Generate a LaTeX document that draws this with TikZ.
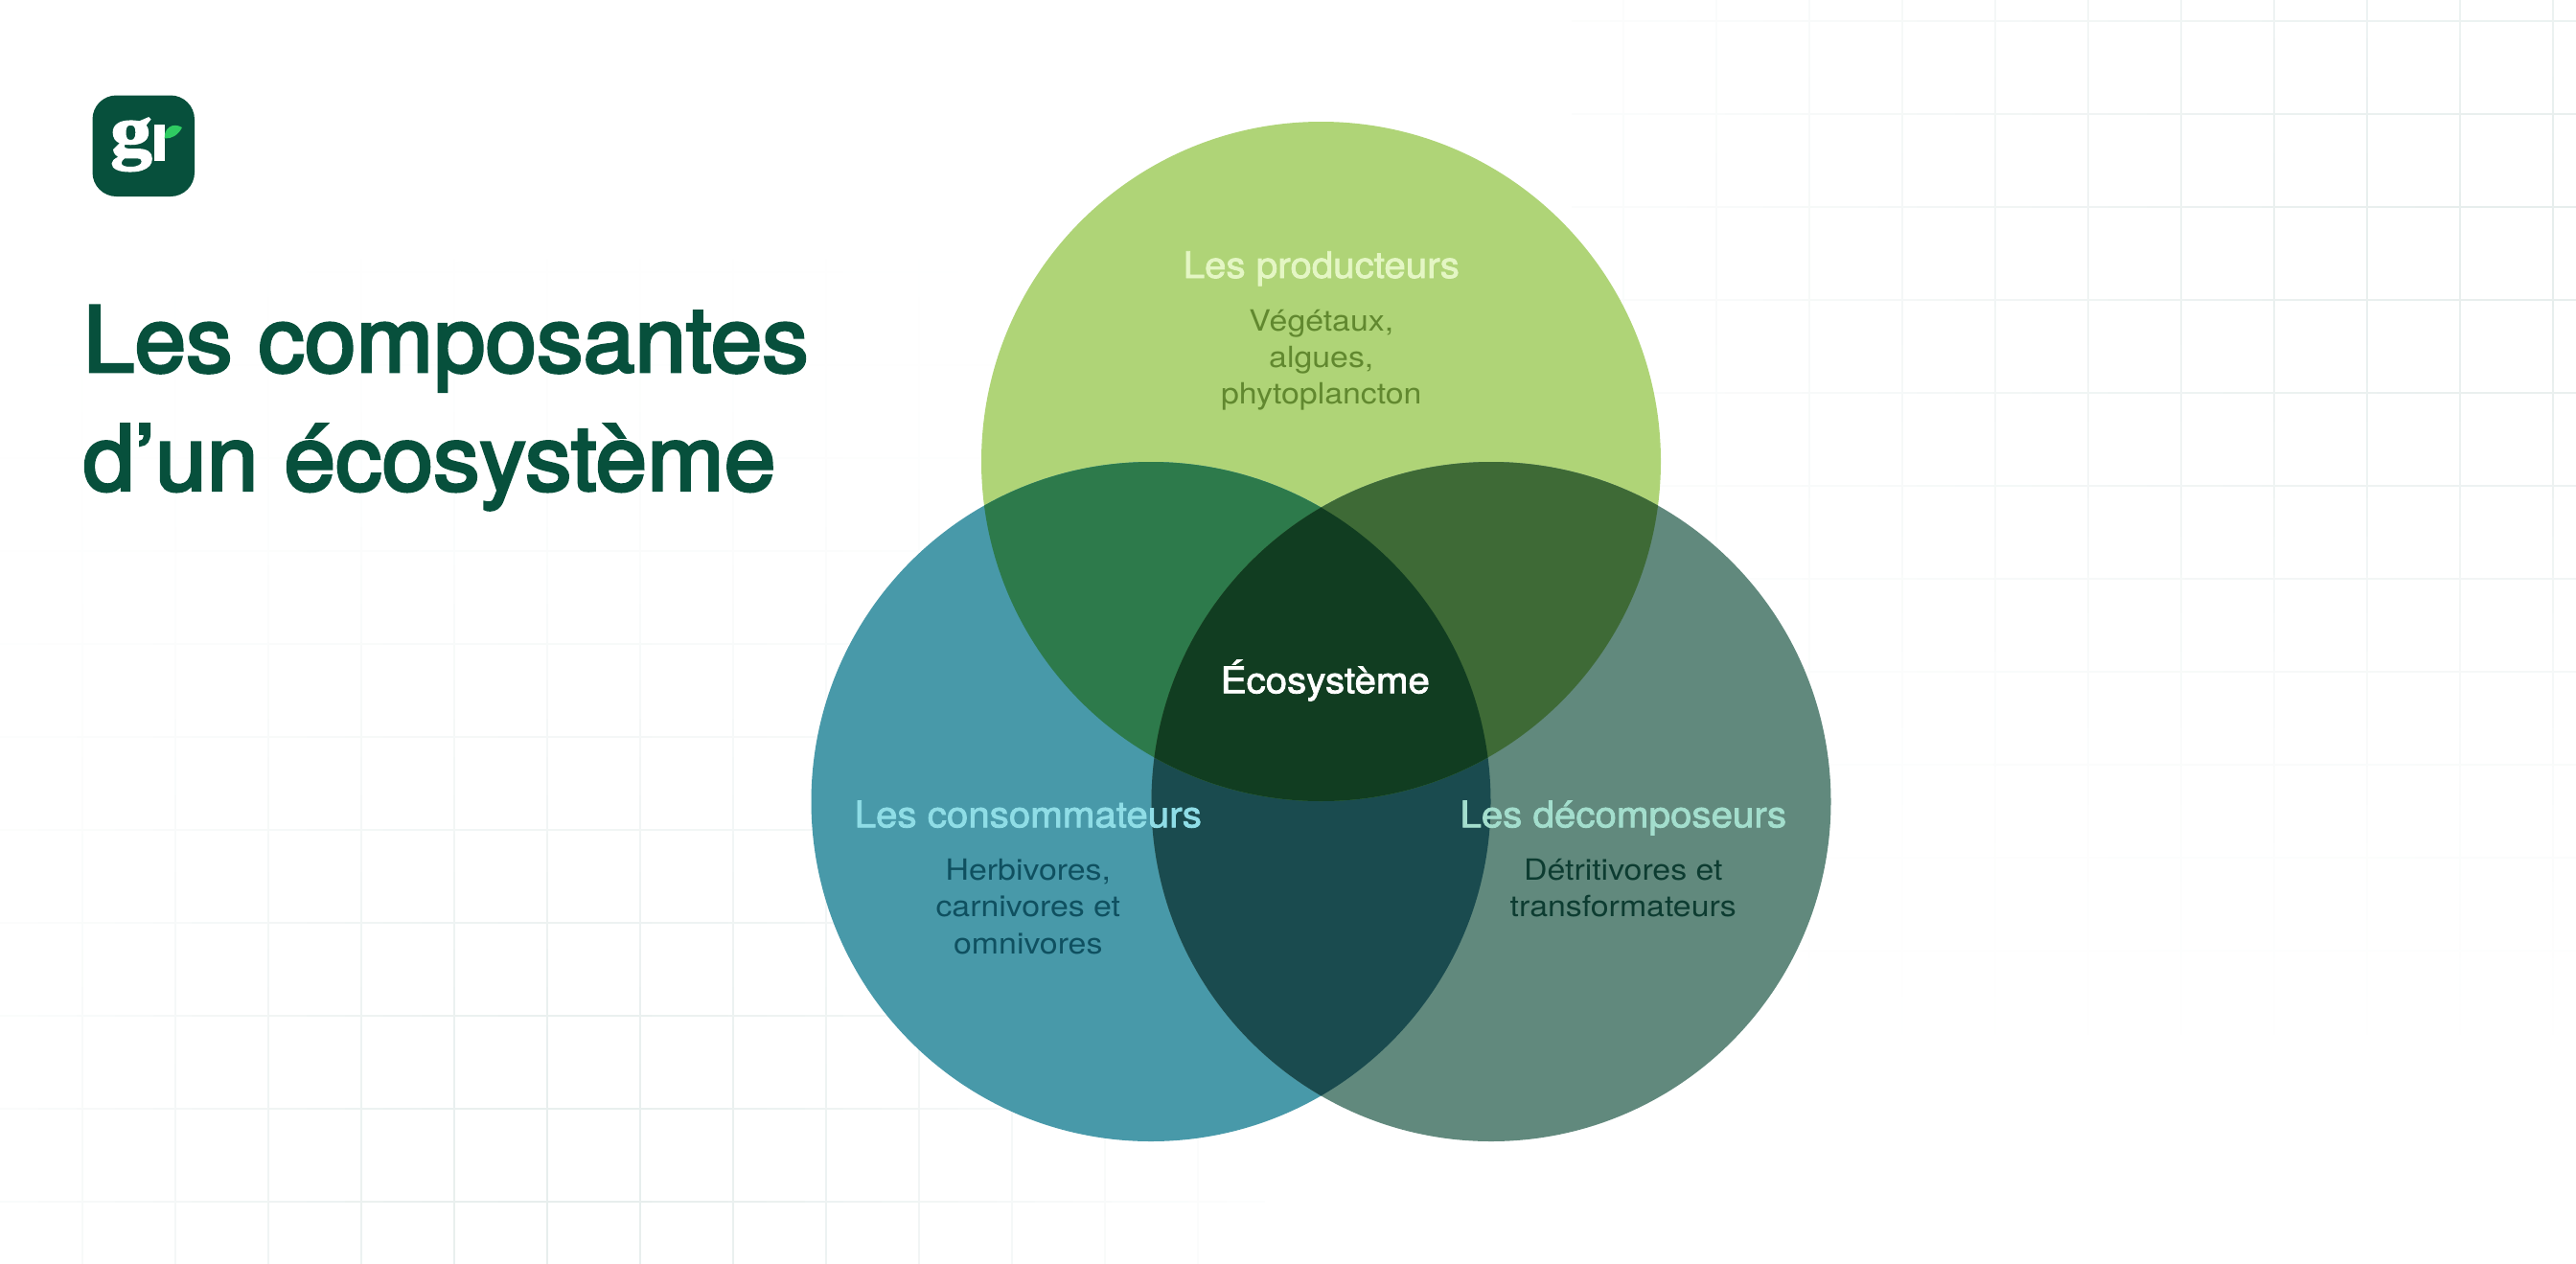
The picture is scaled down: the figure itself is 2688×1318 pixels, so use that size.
\documentclass[tikz,border=0pt]{standalone}
\usepackage{fontspec}
\setmainfont{TeX Gyre Heros}
\newfontfamily\logofont{Liberation Serif}[BoldFont={Liberation Serif Bold}]
\definecolor{cTop}{HTML}{AFD477}
\definecolor{cLeft}{HTML}{4899A9}
\definecolor{cRight}{HTML}{61897D}
\definecolor{cTL}{HTML}{2D7A4B}
\definecolor{cTR}{HTML}{3E6A36}
\definecolor{cBot}{HTML}{1A4B4F}
\definecolor{cMid}{HTML}{113D21}
\definecolor{cDark}{HTML}{07503C}
\definecolor{cGrid}{HTML}{E7EEED}
\definecolor{cLeaf}{HTML}{2FCB62}
\definecolor{hTop}{HTML}{E4F6C4}
\definecolor{bTop}{HTML}{61882F}
\definecolor{hLeft}{HTML}{8FDDE6}
\definecolor{bLeft}{HTML}{0F5060}
\definecolor{hRight}{HTML}{A3DECD}
\definecolor{bRight}{HTML}{0D3C31}
\tikzset{
  headtext/.style={inner sep=0pt,anchor=base,xscale=1.06,font=\fontsize{38}{46}\selectfont\addfontfeatures{FakeBold=2}},
  bodytext/.style={inner sep=0pt,anchor=base,xscale=1.11,font=\fontsize{30.5}{38.4}\selectfont},
  titletext/.style={inner sep=0pt,anchor=base west,text=cDark,xscale=1.018,font=\fontsize{95}{110}\selectfont\addfontfeatures{FakeBold=3}},
  gridline/.style={line width=1.6pt}
}
\begin{document}
\begin{tikzpicture}[x=1pt,y=-1pt]
\useasboundingbox (0,0) rectangle (2688,1318);
\fill[white] (0,0) rectangle (2688,1318);
% left grid
\foreach \xx in {86,183,...,1250}{
  \foreach \yy in {270,310,...,1310}{
    \pgfmathsetmacro{\gs}{100*exp(-((\xx-600)/480)^2-((\yy+20-1250)/540)^2)}
    \draw[gridline,color=cGrid!\gs!white] (\xx,\yy) -- (\xx,\yy+40);
  }
}
\foreach \yy in {284,381,...,1260}{
  \foreach \xx in {0,40,...,1280}{
    \pgfmathsetmacro{\gs}{100*exp(-((\xx+20-600)/480)^2-((\yy-1250)/540)^2)}
    \draw[gridline,color=cGrid!\gs!white] (\xx,\yy) -- (\xx+40,\yy);
  }
}
% right grid
\foreach \xx in {1694,1791,...,2680}{
  \foreach \yy in {0,40,...,1040}{
    \pgfmathsetmacro{\gs}{100*exp(-((\xx-2650)/760)^2-((\yy+20-250)/470)^2)}
    \draw[gridline,color=cGrid!\gs!white] (\xx,\yy) -- (\xx,\yy+40);
  }
}
\foreach \yy in {22,119,...,1000}{
  \foreach \xx in {1640,1680,...,2680}{
    \pgfmathsetmacro{\gs}{100*exp(-((\xx+20-2650)/760)^2-((\yy-250)/470)^2)}
    \draw[gridline,color=cGrid!\gs!white] (\xx,\yy) -- (\xx+40,\yy);
  }
}
% circles
\def\circT{(1378.5,481.5) circle (354.5)}
\def\circL{(1201,836.5) circle (354.5)}
\def\circR{(1556,836.5) circle (354.5)}
\fill[cTop] \circT;
\fill[cLeft] \circL;
\fill[cRight] \circR;
\begin{scope}\clip \circL; \fill[cBot] \circR; \end{scope}
\begin{scope}\clip \circT; \fill[cTL] \circL; \end{scope}
\begin{scope}\clip \circT; \fill[cTR] \circR; \end{scope}
\begin{scope}\clip \circT; \clip \circL; \fill[cMid] \circR; \end{scope}
% logo
\fill[cDark,rounded corners=25pt] (96.5,99.5) rectangle (203,205);
\node[inner sep=0pt,anchor=base,text=white,xscale=1.15,font=\fontsize{76}{76}\logofont\bfseries\addfontfeatures{FakeBold=2}] (logog) at (137,162) {g};
\fill[white] (161,130) -- (171.7,130) -- (171.7,167.5) -- (161,167.5) -- cycle;
\fill[cLeaf] (171.7,144.5) .. controls (171,134) and (180,127) .. (190,133) .. controls (186,141) and (179,145) .. (171.7,144.5) -- cycle;
% title
\node[titletext] (t1) at (86.5,388) {Les composantes};
\node[titletext] (t2) at (86.5,511.7) {d’un écosystème};
% labels
\node[headtext,text=hTop] (hp) at (1378.8,290) {Les producteurs};
\node[bodytext,text=bTop] (b1a) at (1378.8,345) {Végétaux,};
\node[bodytext,text=bTop] (b1b) at (1378.8,383.3) {algues,};
\node[bodytext,text=bTop] (b1c) at (1378.8,421.7) {phytoplancton};
\node[headtext,text=hLeft] (hc) at (1072.8,863.3) {Les consommateurs};
\node[bodytext,text=bLeft] (b2a) at (1072.8,918) {Herbivores,};
\node[bodytext,text=bLeft] (b2b) at (1072.8,956.5) {carnivores et};
\node[bodytext,text=bLeft] (b2c) at (1072.8,995) {omnivores};
\node[headtext,text=hRight] (hd) at (1693.8,863.3) {Les décomposeurs};
\node[bodytext,text=bRight] (b3a) at (1693.8,918) {Détritivores et};
\node[bodytext,text=bRight] (b3b) at (1693.8,956.7) {transformateurs};
\node[headtext,text=white] (he) at (1382.8,723.3) {Écosystème};
\end{tikzpicture}
\end{document}
